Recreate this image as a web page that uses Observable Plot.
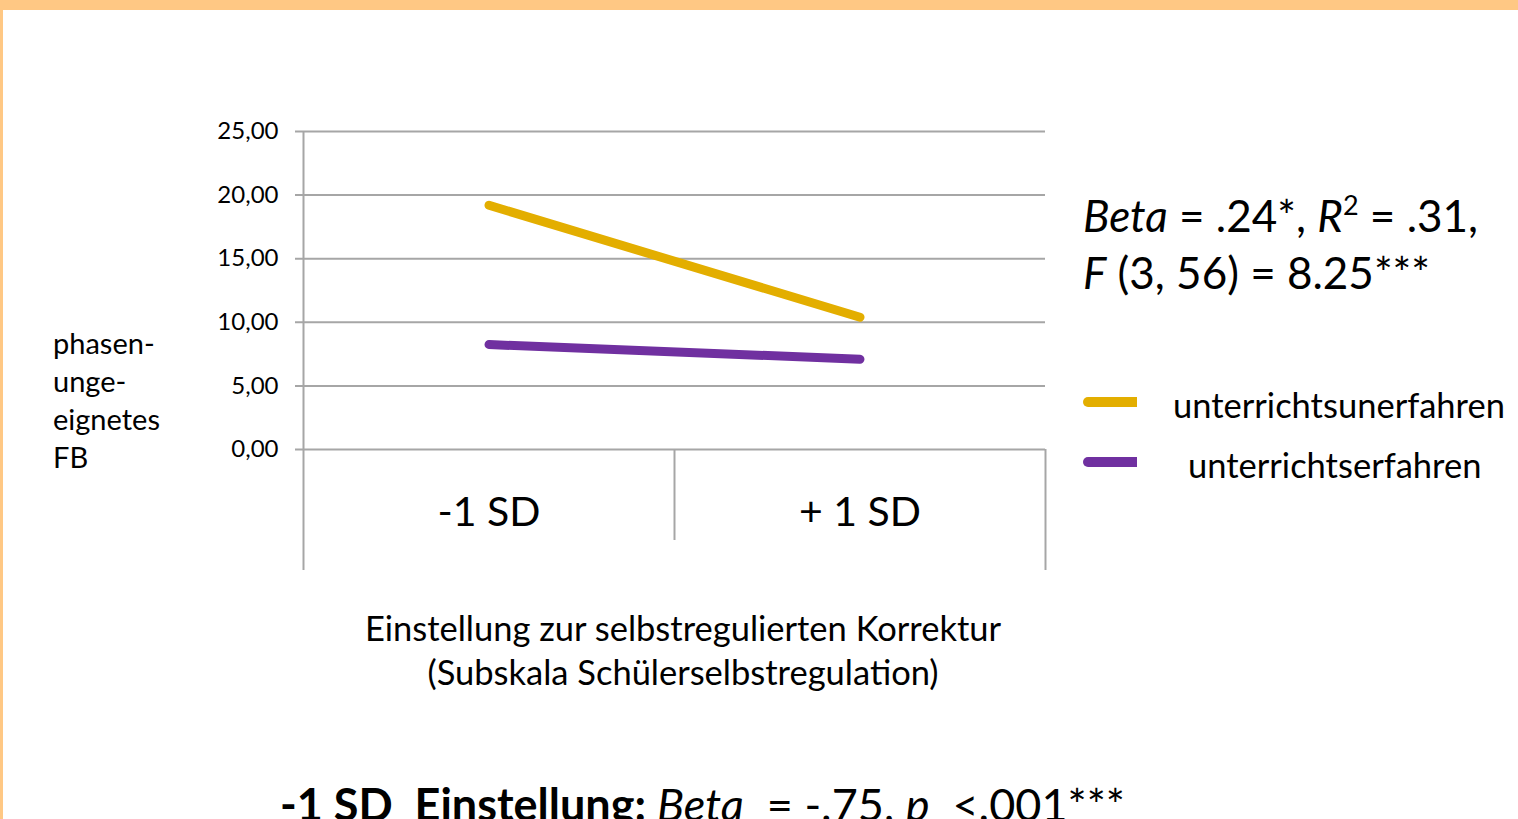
<!DOCTYPE html>
<html><head><meta charset="utf-8">
<script src="https://cdn.jsdelivr.net/npm/d3@7"></script>
<script src="https://cdn.jsdelivr.net/npm/@observablehq/plot@0.6"></script>
<style>
html,body{margin:0;padding:0;background:#fff;}
#page{position:relative;width:1518px;height:819px;overflow:hidden;background:#fff;font-family:Lato,sans-serif;color:#000;}
#topbar{position:absolute;left:0;top:0;width:1518px;height:10px;background:#FFC884;}
#leftbar{position:absolute;left:0;top:0;width:3px;height:819px;background:#FFC884;}
#chart{position:absolute;left:0;top:0;}
#overlay{position:absolute;left:0;top:0;}
</style></head><body>
<div id="page">
  <div id="chart"></div>
  <svg id="overlay" width="1518" height="819"></svg>
  <div id="topbar"></div>
  <div id="leftbar"></div>
</div>
<script>
// ---- data ----
const categories = ["-1 SD", "+ 1 SD"];
const seriesNames = ["unterrichtsunerfahren", "unterrichtserfahren"];
const seriesColors = ["#E3AE00", "#7030A0"];
const valuesUnerfahren = [19.2, 10.4];
const valuesErfahren = [8.25, 7.1];
const yTicks = [0, 5, 10, 15, 20, 25];
const yTitleLines = ["phasen-", "unge-", "eignetes", "FB"];
const xTitleLines = ["Einstellung zur selbstregulierten Korrektur", "(Subskala Schülerselbstregulation)"];

const seriesValues = [valuesUnerfahren, valuesErfahren];
const rows = [];
seriesNames.forEach((s, si) => categories.forEach((c, ci) => rows.push({series: s, pos: ci + 0.5, value: seriesValues[si][ci]})));

const fmt = d => d.toFixed(2).replace(".", ",");
const gridColor = "#a6a6a6";

const plot = Plot.plot({
  width: 1518, height: 600,
  marginLeft: 303, marginRight: 473, marginTop: 131, marginBottom: 151,
  x: {domain: [0, categories.length], axis: null},
  y: {domain: [0, 25], axis: null},
  color: {domain: seriesNames, range: seriesColors},
  style: {fontFamily: "Lato, sans-serif", color: "#000", background: "transparent", overflow: "visible"},
  marks: [
    Plot.ruleY(yTicks, {stroke: gridColor, strokeWidth: 2, insetLeft: -8}),
    Plot.ruleX([0], {stroke: gridColor, strokeWidth: 2}),
    Plot.axisX({ticks: [0, categories.length], tickSize: 121, tickFormat: () => "", stroke: gridColor, strokeWidth: 2, label: null}),
    Plot.axisX({ticks: d3.range(1, categories.length), tickSize: 91, tickFormat: () => "", stroke: gridColor, strokeWidth: 2, label: null}),
    Plot.axisX({ticks: categories.map((c, i) => i + 0.5), tickSize: 0, tickPadding: 47, tickFormat: d => categories[Math.floor(d)], fontSize: 41, fill: "#000", label: null}),
    Plot.axisY({ticks: yTicks, tickSize: 0, tickPadding: 25, tickFormat: fmt, fontSize: 24, fill: "#000", label: null}),
    Plot.line(rows, {x: "pos", y: "value", z: "series", stroke: "series", strokeWidth: 9, strokeLinecap: "round"})
  ]
});
document.getElementById("chart").appendChild(plot);

// ---- annotations ----
const svg = d3.select("#overlay").style("font-family", "Lato, sans-serif").attr("fill", "#000");

// y title
const yt = svg.append("text").attr("font-size", 29);
yTitleLines.forEach((l, i) => yt.append("tspan").attr("x", 53).attr("y", 354 + i * 38).text(l));

// x title
const xt = svg.append("text").attr("font-size", 34.5).attr("text-anchor", "middle");
xTitleLines.forEach((l, i) => xt.append("tspan").attr("x", 683).attr("y", 641 + i * 44).text(l));

// stats
const st1 = svg.append("text").attr("x", 1083).attr("y", 232).attr("font-size", 44).style("white-space", "pre");
st1.append("tspan").attr("font-style", "italic").text("Beta");
st1.append("tspan").text(" = .24*, ");
st1.append("tspan").attr("font-style", "italic").text("R");
st1.append("tspan").attr("font-size", 27).attr("dy", -17).text("2");
st1.append("tspan").attr("dy", 17).text(" = .31,");
const st2 = svg.append("text").attr("x", 1083).attr("y", 289).attr("font-size", 44).style("white-space", "pre");
st2.append("tspan").attr("font-style", "italic").text("F");
st2.append("tspan").text(" (3, 56) = 8.25***");

// legend
const legendY = [402, 462];
const legendTextX = [1173, 1188];
seriesNames.forEach((s, i) => {
  svg.append("line").attr("x1", 1088).attr("x2", 1137).attr("y1", legendY[i]).attr("y2", legendY[i])
    .attr("stroke", seriesColors[i]).attr("stroke-width", 10);
  svg.append("circle").attr("cx", 1088).attr("cy", legendY[i]).attr("r", 5).attr("fill", seriesColors[i]);
  svg.append("text").attr("x", legendTextX[i]).attr("y", legendY[i] + 16).attr("font-size", 34.5).text(s);
});

// bottom caption (cut off at the page edge as in the original slide)
const bc = svg.append("text").attr("x", 280).attr("y", 821).attr("font-size", 45).style("white-space", "pre");
bc.append("tspan").attr("font-weight", "bold").text("-1 SD  Einstellung: ");
bc.append("tspan").attr("font-style", "italic").text("Beta");
bc.append("tspan").text("  = -.75, ");
bc.append("tspan").attr("font-style", "italic").text("p");
bc.append("tspan").text("  <.001***");
</script>
</body></html>
